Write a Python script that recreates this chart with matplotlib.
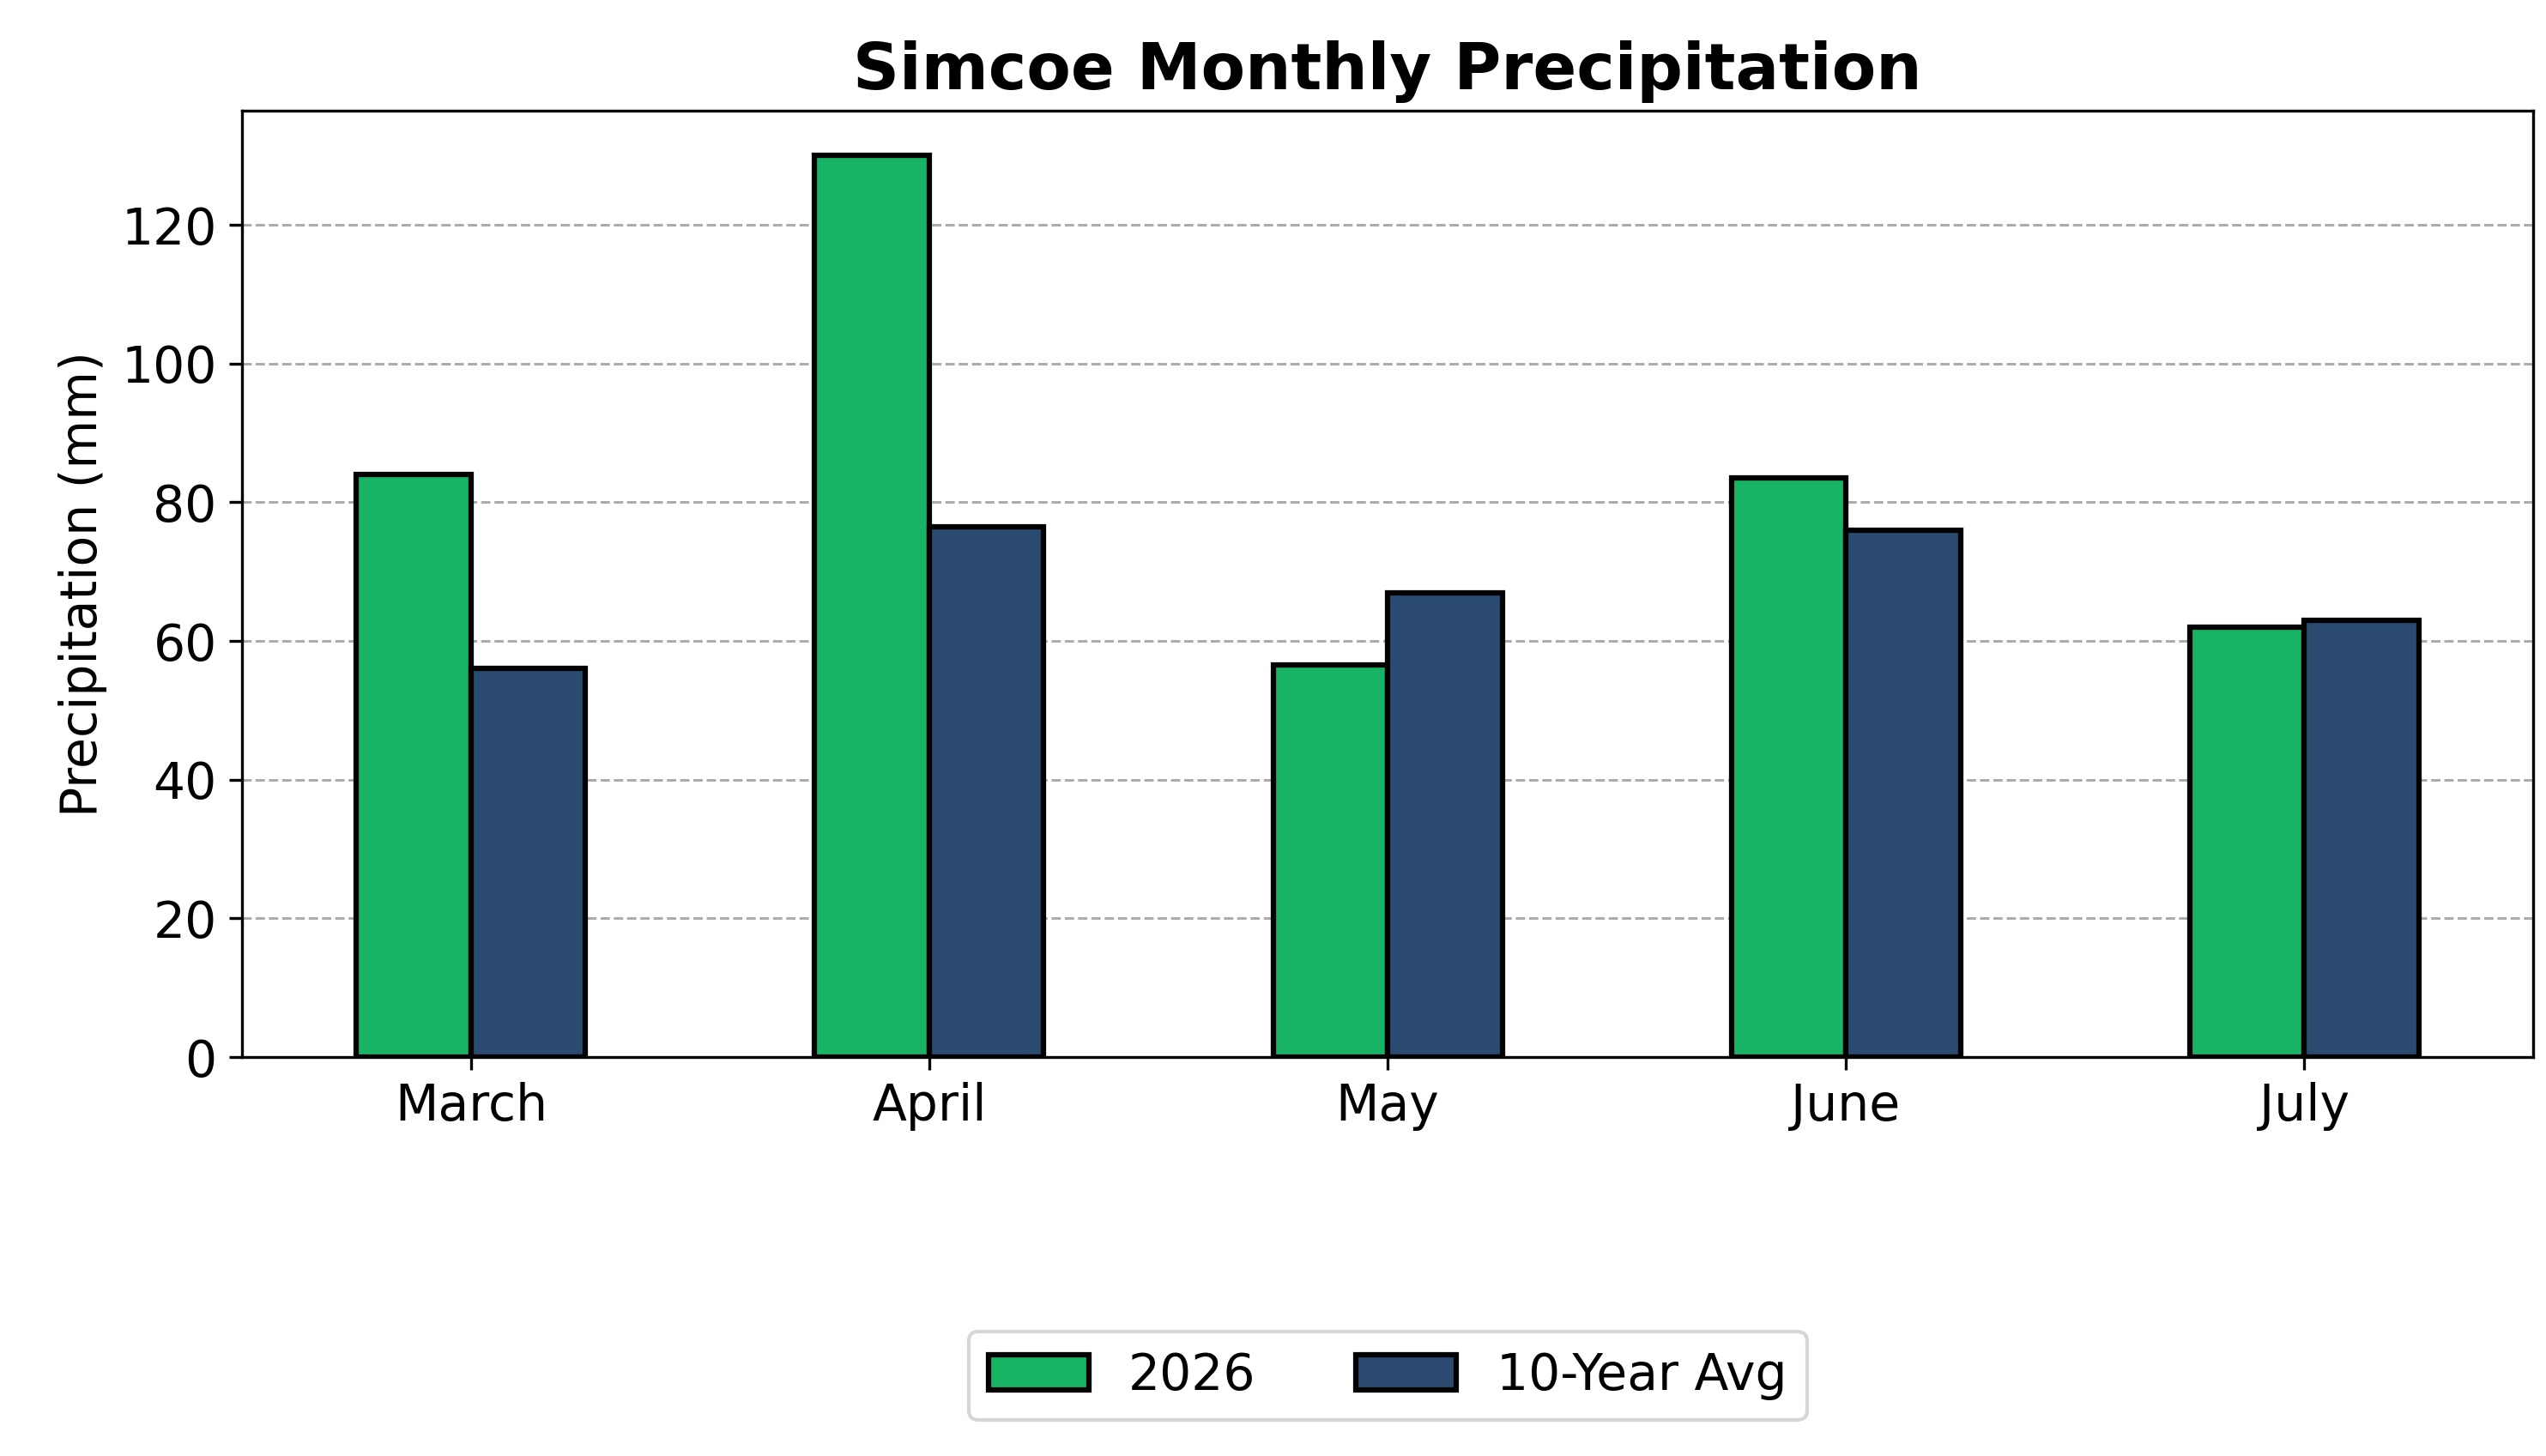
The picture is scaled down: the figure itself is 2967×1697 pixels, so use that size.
import numpy as np
import matplotlib.pyplot as plt

months = ["March", "April", "May", "June", "July"]
precip_2026 = [84, 130, 56.5, 83.5, 62]
precip_avg = [56, 76.5, 67, 76, 63]

x = np.arange(len(months))
w = 0.25

fig, ax = plt.subplots(figsize=(9.89, 5.657), dpi=300)
fig.subplots_adjust(left=0.095, right=0.995, top=0.924, bottom=0.274)
ax.bar(x - w/2, precip_2026, w, color='#19b366', edgecolor='black', linewidth=1.5, label='2026', zorder=3)
ax.bar(x + w/2, precip_avg, w, color='#2a4a70', edgecolor='black', linewidth=1.5, label='10-Year Avg', zorder=3)

ax.set_xticks(x)
ax.set_xticklabels(months, fontsize=14)
ax.tick_params(axis='y', labelsize=14)
ax.set_ylim(0, 136.5)
ax.set_xlim(-0.5, 4.5)
ax.set_ylabel("Precipitation (mm)", fontsize=14)
ax.set_title("Simcoe Monthly Precipitation", fontsize=18, fontweight='bold')
ax.yaxis.grid(True, linestyle='--', color='#aaaaaa', linewidth=0.7, zorder=0)

fig.legend(loc='center', bbox_to_anchor=(0.545, 0.055), ncol=2, fontsize=14)
fig.savefig("out.png")
